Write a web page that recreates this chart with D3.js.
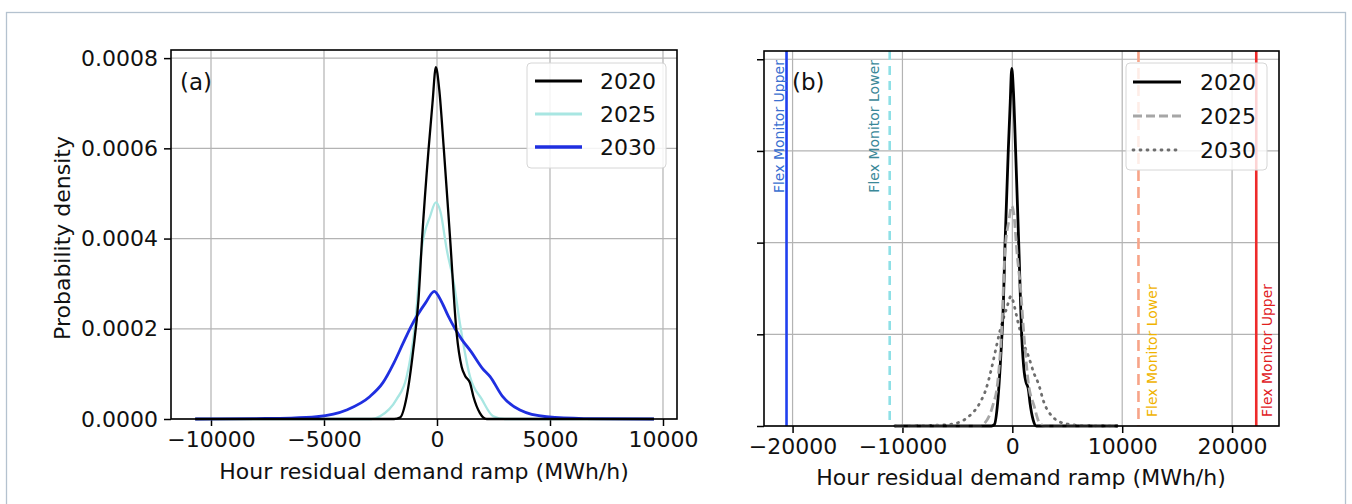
<!DOCTYPE html>
<html><head><meta charset="utf-8">
<script src="https://cdn.jsdelivr.net/npm/d3@7"></script>
<style>body{margin:0;background:#fff} svg{display:block} text{font-family:"DejaVu Sans",sans-serif}</style>
</head><body><svg id="c" width="1352" height="504"></svg>
<script>
// ---------- data ----------
const years = ["2020", "2025", "2030"];
// [ramp MWh/h, probability density]
const density2020 = [[-10700,0],[-1900,0],[-1640,0.000003],[-1340,0.00005],[-1050,0.000153],[-820,0.000264],[-660,0.0004],[-370,0.0006],[-200,0.0007],[-50,0.00078],[100,0.00073],[300,0.0006],[580,0.0004],[870,0.00019],[1090,0.000116],[1240,0.000096],[1460,0.00008],[1610,0.00005],[1900,0.000013],[2200,0],[9600,0]];
const density2025 = [[-10700,0],[-2900,0],[-2520,0.000006],[-1785,0.000044],[-1340,0.000094],[-970,0.00021],[-680,0.000376],[-300,0.00045],[-50,0.00048],[150,0.00046],[430,0.000376],[750,0.0003],[1020,0.00021],[1460,0.000094],[1980,0.000044],[2490,0.000006],[3000,0],[9600,0]];
const density2030 = [[-10700,0],[-8000,0.000001],[-6500,0.000002],[-5320,0.000005],[-4000,0.00002],[-2965,0.00005],[-2400,0.00008],[-1900,0.000125],[-1500,0.000168],[-1150,0.000205],[-500,0.000258],[-120,0.000283],[200,0.00026],[500,0.000228],[800,0.0002],[1100,0.000176],[1500,0.00015],[2000,0.000113],[2350,0.000094],[2900,0.00005],[3670,0.00002],[4850,0.000005],[6500,0.000001],[9600,0]];
const flexLabels = ["Flex Monitor Upper", "Flex Monitor Lower", "Flex Monitor Lower", "Flex Monitor Upper"];
const flexValues = [-20550, -11160, 11480, 22200];
const yTicks = [0, 0.0002, 0.0004, 0.0006, 0.0008];
const xTicksA = [-10000, -5000, 0, 5000, 10000];
const xTicksB = [-20000, -10000, 0, 10000, 20000];
const xLabel = "Hour residual demand ramp (MWh/h)";
const yLabel = "Probability density";

const seriesData = [density2020, density2025, density2030];

// ---------- drawing ----------
const svg = d3.select("#c");
svg.append("rect").attr("x",6.5).attr("y",12.5).attr("width",1339).attr("height",600)
  .attr("fill","none").attr("stroke","#b4c2cf").attr("stroke-width",1.3);

const fmtY = d => d.toFixed(4);
const fmtX = d => d < 0 ? "\u2212" + Math.abs(d) : String(d);

function panel(cfg){
  const x = d3.scaleLinear().domain(cfg.xDomain).range([cfg.left, cfg.right]);
  const y = d3.scaleLinear().domain([0, 0.000818]).range([cfg.bottom, cfg.top]);
  const g = svg.append("g");
  g.append("g").selectAll("line").data(cfg.xTicks).join("line")
    .attr("x1",d=>x(d)).attr("x2",d=>x(d)).attr("y1",cfg.top).attr("y2",cfg.bottom)
    .attr("stroke","#b3b3b3").attr("stroke-width",1.2);
  g.append("g").selectAll("line").data(yTicks).join("line")
    .attr("x1",cfg.left).attr("x2",cfg.right).attr("y1",d=>y(d)).attr("y2",d=>y(d))
    .attr("stroke","#b3b3b3").attr("stroke-width",1.2);
  const ax = g.append("g").attr("transform",`translate(0,${cfg.bottom})`)
    .call(d3.axisBottom(x).tickValues(cfg.xTicks).tickFormat(fmtX).tickSize(7).tickPadding(5));
  const ay = g.append("g").attr("transform",`translate(${cfg.left},0)`)
    .call(d3.axisLeft(y).tickValues(yTicks).tickFormat(cfg.showY ? fmtY : "").tickSize(7).tickPadding(6));
  [ax, ay].forEach(a => {
    a.select(".domain").remove();
    a.selectAll("line").attr("stroke","#000").attr("stroke-width",1.5);
    a.selectAll("text").attr("fill","#111").style("font-size","22px");
  });
  return {x, y, g};
}

// ---- panel (a) ----
const A = panel({left:171, right:677, top:50, bottom:419, xDomain:[-11770,10620], xTicks:xTicksA, showY:true});
const colorsA = ["#000000", "#a8e6e2", "#1f2fe0"];
const widthsA = [2.3, 2.3, 2.8];
const lineA = d3.line().x(d=>A.x(d[0])).y(d=>A.y(d[1])).curve(d3.curveMonotoneX);
[1,2,0].forEach(i => {
  A.g.append("path").datum(seriesData[i]).attr("d", lineA).attr("fill","none")
    .attr("stroke", colorsA[i]).attr("stroke-width", widthsA[i]).attr("stroke-linejoin","round");
});
A.g.append("rect").attr("x",171).attr("y",50).attr("width",506).attr("height",369)
  .attr("fill","none").attr("stroke","#000").attr("stroke-width",1.6);
A.g.append("text").attr("x",180).attr("y",90).text("(a)").style("font-size","23px").attr("fill","#111");
const legA = A.g.append("g");
legA.append("rect").attr("x",527).attr("y",63).attr("width",139).attr("height",105).attr("rx",4)
  .attr("fill","rgba(255,255,255,0.85)").attr("stroke","#d6d6d6");
years.forEach((yr,i) => {
  const yy = 81 + i*33;
  legA.append("line").attr("x1",535).attr("x2",582).attr("y1",yy).attr("y2",yy)
    .attr("stroke",colorsA[i]).attr("stroke-width",widthsA[i]+0.5);
  legA.append("text").attr("x",600).attr("y",yy).attr("dy","0.36em").text(yr)
    .style("font-size","22px").attr("fill","#111");
});
A.g.append("text").attr("x",424).attr("y",471).attr("dy","0.36em").attr("text-anchor","middle")
  .text(xLabel).style("font-size","22px").attr("fill","#111");
A.g.append("text").attr("transform","translate(62,238) rotate(-90)").attr("dy","0.36em")
  .attr("text-anchor","middle").text(yLabel).style("font-size","22px").attr("fill","#111");

// ---- panel (b) ----
const B = panel({left:764, right:1279, top:51, bottom:426, xDomain:[-22600,24270], xTicks:xTicksB, showY:false});
const flexColors = ["#2040ee", "#8ee0e6", "#f7a488", "#ee2a2a"];
const flexDash = [null, "9,6", "11,6", null];
const flexTextColors = ["#3a6fd0", "#3a8898", "#f0b300", "#e0201e"];
const flexTextOffset = [-3, -11, 19, 16];
flexValues.forEach((v,i) => {
  B.g.append("line").attr("x1",B.x(v)).attr("x2",B.x(v)).attr("y1",51).attr("y2",426)
    .attr("stroke",flexColors[i]).attr("stroke-width",2.6).attr("stroke-dasharray",flexDash[i]);
});
const colorsB = ["#000000", "#a6a6a6", "#6e6e6e"];
const dashB = [null, "9,4", "1,6"];
const widthsB = [2.8, 2.8, 2.8];
const lineB = d3.line().x(d=>B.x(d[0])).y(d=>B.y(d[1])).curve(d3.curveMonotoneX);
[2,0,1].forEach(i => {
  B.g.append("path").datum(seriesData[i]).attr("d", lineB).attr("fill","none")
    .attr("stroke", colorsB[i]).attr("stroke-width", widthsB[i]).attr("stroke-dasharray", dashB[i])
    .attr("stroke-linecap", i===2 ? "round" : "butt").attr("stroke-linejoin","round");
});
const legB = B.g.append("g");
legB.append("rect").attr("x",1126).attr("y",63).attr("width",141).attr("height",107).attr("rx",4)
  .attr("fill","rgba(255,255,255,0.8)").attr("stroke","#d6d6d6");
years.forEach((yr,i) => {
  const yy = 82 + i*34;
  legB.append("line").attr("x1",1133).attr("x2",1181).attr("y1",yy).attr("y2",yy)
    .attr("stroke",colorsB[i]).attr("stroke-width",widthsB[i]).attr("stroke-dasharray",dashB[i])
    .attr("stroke-linecap", i===2 ? "round" : "butt");
  legB.append("text").attr("x",1200).attr("y",yy).attr("dy","0.36em").text(yr)
    .style("font-size","22px").attr("fill","#111");
});
flexValues.forEach((v,i) => {
  const left = i < 2;
  const tx = B.x(v) + flexTextOffset[i];
  const ty = left ? 60 : 417;
  B.g.append("text").attr("transform",`translate(${tx},${ty}) rotate(-90)`)
    .attr("text-anchor", left ? "end" : "start").text(flexLabels[i])
    .style("font-size","14px").attr("fill",flexTextColors[i]);
});
B.g.append("rect").attr("x",764).attr("y",51).attr("width",515).attr("height",375)
  .attr("fill","none").attr("stroke","#000").attr("stroke-width",1.6);
B.g.append("text").attr("x",792).attr("y",90).text("(b)").style("font-size","23px").attr("fill","#111");
B.g.append("text").attr("x",1021).attr("y",477).attr("dy","0.36em").attr("text-anchor","middle")
  .text(xLabel).style("font-size","22px").attr("fill","#111");
</script></body></html>
